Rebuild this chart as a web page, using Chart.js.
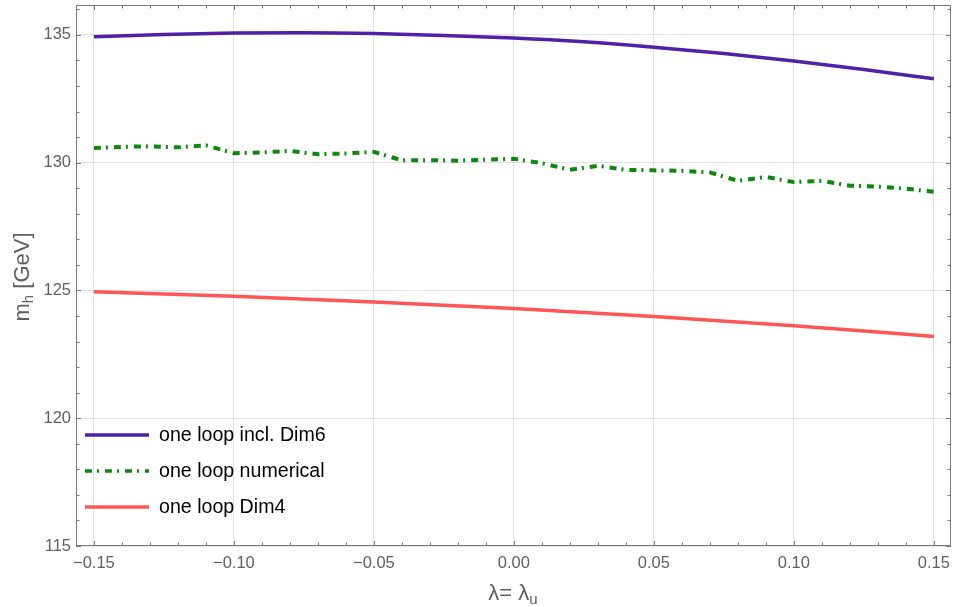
<!DOCTYPE html>
<html>
<head>
<meta charset="utf-8">
<script src="https://cdn.jsdelivr.net/npm/chart.js@4.4.0/dist/chart.umd.min.js"></script>
<style>
html,body{margin:0;padding:0;background:#fff;}
canvas{display:block;}
</style>
</head>
<body>
<canvas id="c" width="955" height="607"></canvas>
<script>
// ---- data ----
const seriesNames = ["one loop incl. Dim6", "one loop numerical", "one loop Dim4"];
const lambdaFine = [-0.15,-0.14,-0.13,-0.12,-0.11,-0.10,-0.09,-0.08,-0.07,-0.06,-0.05,-0.04,-0.03,-0.02,-0.01,0.00,0.01,0.02,0.03,0.04,0.05,0.06,0.07,0.08,0.09,0.10,0.11,0.12,0.13,0.14,0.15];
const numericalValues = [130.57,130.62,130.64,130.60,130.68,130.37,130.40,130.46,130.33,130.36,130.42,130.09,130.10,130.08,130.12,130.15,129.98,129.72,129.88,129.72,129.70,129.68,129.62,129.29,129.44,129.24,129.29,129.10,129.06,128.98,128.86];
const lambdaDim6 = [-0.15,-0.125,-0.10,-0.075,-0.05,-0.025,0.00,0.025,0.05,0.075,0.10,0.125,0.15];
const dim6Values = [134.93,135.02,135.07,135.08,135.05,134.98,134.88,134.73,134.52,134.27,133.98,133.65,133.28];
const lambdaDim4 = [-0.15,-0.10,-0.05,0.00,0.05,0.10,0.15];
const dim4Values = [124.95,124.77,124.55,124.29,123.98,123.62,123.20];
const xTickValues = [-0.15,-0.10,-0.05,0.00,0.05,0.10,0.15];
const xTickLabels = ["\u22120.15","\u22120.10","\u22120.05","0.00","0.05","0.10","0.15"];
const yTickValues = [115,120,125,130,135];
const yTickLabels = ["115","120","125","130","135"];

const toPts = (xs, ys) => xs.map((x, i) => ({x: x, y: ys[i]}));

const GRAY = '#5f5f5f';
const FONT = '"Liberation Sans", Arial, Helvetica, sans-serif';

const framePlugin = {
  id: 'frame',
  afterDraw(chart) {
    const ctx = chart.ctx;
    const a = chart.chartArea;
    const xs = chart.scales.x, ys = chart.scales.y;
    ctx.save();
    ctx.strokeStyle = '#7a7a7a';
    ctx.lineWidth = 1;
    ctx.strokeRect(Math.round(a.left) + 0.5, Math.round(a.top) + 0.5, Math.round(a.right - a.left) - 1, Math.round(a.bottom - a.top) - 1);
    ctx.beginPath();
    for (let i = -15; i <= 15; i++) {
      const px = Math.round(xs.getPixelForValue(i / 100)) + 0.5;
      const len = (i % 5 === 0) ? 5 : 3.5;
      ctx.moveTo(px, a.bottom); ctx.lineTo(px, a.bottom - len);
      ctx.moveTo(px, a.top); ctx.lineTo(px, a.top + len);
    }
    for (let v = 115; v <= 136; v++) {
      const py = Math.round(ys.getPixelForValue(v)) + 0.5;
      const len = (v % 5 === 0) ? 5 : 3.5;
      ctx.moveTo(a.left, py); ctx.lineTo(a.left + len, py);
      ctx.moveTo(a.right, py); ctx.lineTo(a.right - len, py);
    }
    ctx.stroke();

    // axis titles
    ctx.fillStyle = GRAY;
    ctx.textBaseline = 'alphabetic';
    // y title: m_h [GeV]
    ctx.save();
    ctx.translate(29, 277);
    ctx.rotate(-Math.PI / 2);
    ctx.font = '22px ' + FONT;
    const w1 = ctx.measureText('m').width;
    ctx.font = '15px ' + FONT;
    const w2 = ctx.measureText('h').width;
    ctx.font = '22px ' + FONT;
    const w3 = ctx.measureText(' [GeV]').width;
    let x0 = -(w1 + w2 + w3) / 2;
    ctx.fillText('m', x0, 0);
    ctx.font = '15px ' + FONT;
    ctx.fillText('h', x0 + w1, 4);
    ctx.font = '22px ' + FONT;
    ctx.fillText(' [GeV]', x0 + w1 + w2, 0);
    ctx.restore();
    // x title: λ= λ_u
    ctx.font = '22px ' + FONT;
    const p1 = ctx.measureText('\u03bb').width;
    const p2 = ctx.measureText('= ').width;
    const p3 = p1;
    ctx.font = '15px ' + FONT;
    const p4 = ctx.measureText('u').width;
    let bx = 513 - (p1 + p2 + p3 + p4) / 2;
    const by = 600;
    ctx.font = '22px ' + FONT;
    ctx.fillText('\u03bb', bx, by);
    ctx.fillText('= ', bx + p1, by);
    ctx.fillText('\u03bb', bx + p1 + p2, by);
    ctx.font = '15px ' + FONT;
    ctx.fillText('u', bx + p1 + p2 + p3, by + 4);

    // legend
    const items = chart.data.datasets;
    const rowY = [435, 471, 507];
    items.forEach((ds, i) => {
      ctx.save();
      ctx.strokeStyle = ds.borderColor;
      ctx.lineWidth = Math.min(ds.borderWidth, 3.5);
      ctx.setLineDash(ds.borderDash || []);
      ctx.beginPath();
      ctx.moveTo(85, rowY[i]);
      ctx.lineTo(149, rowY[i]);
      ctx.stroke();
      ctx.restore();
      ctx.fillStyle = '#000';
      ctx.font = '19.6px ' + FONT;
      ctx.textBaseline = 'middle';
      ctx.fillText(seriesNames[i], 159, rowY[i] + 1);
    });
    ctx.restore();
  }
};

new Chart(document.getElementById('c'), {
  type: 'line',
  data: {
    datasets: [
      {label: seriesNames[0], data: toPts(lambdaDim6, dim6Values), borderColor: '#5220a6', borderWidth: 3.5, pointRadius: 0, fill: false, cubicInterpolationMode: 'monotone'},
      {label: seriesNames[1], data: toPts(lambdaFine, numericalValues), borderColor: '#0a8a0a', borderWidth: 4, borderDash: [7, 5, 2, 6], pointRadius: 0, fill: false, tension: 0},
      {label: seriesNames[2], data: toPts(lambdaDim4, dim4Values), borderColor: '#ff5555', borderWidth: 3.5, pointRadius: 0, fill: false, cubicInterpolationMode: 'monotone'}
    ]
  },
  options: {
    responsive: false,
    animation: false,
    devicePixelRatio: 1,
    layout: {padding: {top: 5, right: 4, left: 0, bottom: 0}},
    plugins: {legend: {display: false}, tooltip: {enabled: false}},
    scales: {
      x: {
        type: 'linear', min: -0.1564, max: 0.1561,
        afterBuildTicks: s => { s.ticks = xTickValues.map(v => ({value: v})); },
        afterFit: s => { s.height = 61; s.paddingLeft = 0; s.paddingRight = 0; s.paddingTop = 0; s.paddingBottom = 0; },
        grid: {color: 'rgba(0,0,0,0.11)', drawTicks: false},
        border: {display: false},
        ticks: {
          padding: 8, color: GRAY, font: {family: FONT, size: 16.5},
          callback: (v) => { const i = xTickValues.findIndex(t => Math.abs(t - v) < 1e-6); return i >= 0 ? xTickLabels[i] : ''; }
        }
      },
      y: {
        type: 'linear', min: 115, max: 136.17,
        afterBuildTicks: s => { s.ticks = yTickValues.map(v => ({value: v})); },
        afterFit: s => { s.width = 76; s.paddingLeft = 0; s.paddingRight = 0; s.paddingTop = 0; s.paddingBottom = 0; },
        grid: {color: 'rgba(0,0,0,0.11)', drawTicks: false},
        border: {display: false},
        ticks: {
          padding: 5, color: GRAY, font: {family: FONT, size: 16.5},
          callback: (v) => { const i = yTickValues.indexOf(v); return i >= 0 ? yTickLabels[i] : ''; }
        }
      }
    }
  },
  plugins: [framePlugin]
});
</script>
</body>
</html>
